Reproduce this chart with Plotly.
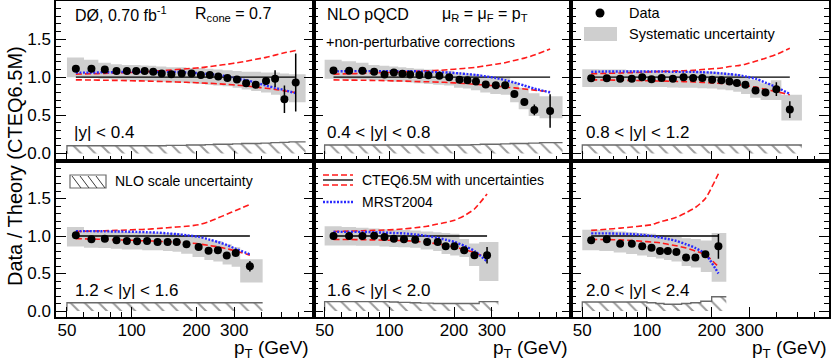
import plotly.graph_objects as go
from plotly.subplots import make_subplots

# |y| < 0.4
edges_1 = [50, 60, 70, 80, 90, 100, 110, 120, 130, 145, 160, 180, 200, 220, 240, 265, 295, 325, 360, 400, 445, 490, 540, 645]
pt_1 = [55, 65, 75, 85, 95, 105, 115, 126, 138, 153, 171, 190, 210, 231, 253, 279, 309, 341, 378, 422, 465, 514, 580]
ratio_1 = [1.11, 1.11, 1.10, 1.08, 1.08, 1.08, 1.08, 1.07, 1.05, 1.04, 1.05, 1.05, 1.03, 1.03, 1.01, 0.99, 0.97, 0.92, 0.90, 0.95, 0.98, 0.71, 0.93]
stat_1 = [0.005, 0.005, 0.005, 0.005, 0.005, 0.005, 0.005, 0.005, 0.005, 0.005, 0.005, 0.005, 0.005, 0.006, 0.007, 0.008, 0.01, 0.012, 0.02, 0.045, 0.11, 0.18, 0.38]
syshi_1 = [1.26, 1.23, 1.19, 1.17, 1.16, 1.16, 1.155, 1.15, 1.14, 1.13, 1.13, 1.12, 1.12, 1.11, 1.10, 1.09, 1.08, 1.07, 1.07, 1.06, 1.06, 1.05, 1.04]
syslo_1 = [1.00, 0.99, 0.98, 0.97, 0.96, 0.96, 0.95, 0.95, 0.94, 0.93, 0.93, 0.92, 0.91, 0.90, 0.89, 0.88, 0.86, 0.84, 0.82, 0.80, 0.77, 0.72, 0.67]
nlo_1 = [0.10, 0.10, 0.10, 0.10, 0.10, 0.10, 0.10, 0.10, 0.10, 0.105, 0.105, 0.11, 0.11, 0.115, 0.12, 0.12, 0.125, 0.13, 0.13, 0.135, 0.14, 0.145, 0.15]
cteq_up_1 = [1.04, 1.045, 1.05, 1.055, 1.06, 1.065, 1.07, 1.08, 1.085, 1.095, 1.105, 1.115, 1.125, 1.14, 1.155, 1.17, 1.19, 1.21, 1.235, 1.26, 1.29, 1.32, 1.35]
cteq_dn_1 = [0.965, 0.963, 0.96, 0.958, 0.955, 0.952, 0.95, 0.947, 0.944, 0.94, 0.935, 0.93, 0.925, 0.92, 0.913, 0.905, 0.895, 0.885, 0.87, 0.855, 0.84, 0.82, 0.80]
mrst_1 = [1.06, 1.06, 1.065, 1.065, 1.07, 1.07, 1.07, 1.07, 1.07, 1.07, 1.065, 1.06, 1.05, 1.04, 1.03, 1.01, 0.98, 0.96, 0.93, 0.89, 0.86, 0.83, 0.79]

# 0.4 < |y| < 0.8
edges_2 = [50, 60, 70, 80, 90, 100, 110, 120, 130, 145, 160, 180, 200, 220, 240, 265, 295, 330, 365, 400, 445, 500, 640]
pt_2 = [55, 65, 75, 85, 95, 105, 115, 125, 138, 152, 171, 190, 212, 231, 253, 281, 313, 346, 382, 425, 473, 560]
ratio_2 = [1.088, 1.083, 1.083, 1.07, 1.035, 1.06, 1.044, 1.035, 1.03, 1.026, 1.018, 1.00, 0.965, 0.96, 0.943, 0.904, 0.895, 0.895, 0.78, 0.675, 0.57, 0.557]
stat_2 = [0.005, 0.005, 0.005, 0.005, 0.005, 0.005, 0.005, 0.005, 0.005, 0.005, 0.005, 0.006, 0.006, 0.007, 0.008, 0.01, 0.012, 0.015, 0.02, 0.04, 0.07, 0.22]
syshi_2 = [1.23, 1.21, 1.19, 1.16, 1.15, 1.14, 1.13, 1.12, 1.11, 1.10, 1.09, 1.08, 1.06, 1.05, 1.04, 1.02, 1.00, 0.99, 0.93, 0.86, 0.79, 0.75]
syslo_2 = [0.98, 0.97, 0.97, 0.96, 0.95, 0.94, 0.94, 0.93, 0.92, 0.91, 0.90, 0.89, 0.86, 0.85, 0.83, 0.80, 0.78, 0.77, 0.67, 0.58, 0.49, 0.46]
nlo_2 = [0.11, 0.11, 0.11, 0.11, 0.11, 0.11, 0.11, 0.11, 0.11, 0.11, 0.11, 0.11, 0.11, 0.11, 0.115, 0.12, 0.12, 0.125, 0.13, 0.13, 0.135, 0.14]
cteq_up_2 = [1.04, 1.045, 1.05, 1.055, 1.06, 1.065, 1.07, 1.075, 1.08, 1.085, 1.09, 1.10, 1.11, 1.12, 1.13, 1.15, 1.17, 1.19, 1.22, 1.25, 1.29, 1.37]
cteq_dn_2 = [0.965, 0.962, 0.96, 0.957, 0.955, 0.952, 0.95, 0.946, 0.942, 0.94, 0.935, 0.93, 0.92, 0.915, 0.905, 0.895, 0.885, 0.87, 0.86, 0.845, 0.83, 0.81]
mrst_2 = [1.075, 1.08, 1.08, 1.08, 1.08, 1.08, 1.08, 1.08, 1.075, 1.07, 1.065, 1.06, 1.05, 1.04, 1.03, 1.01, 0.99, 0.96, 0.93, 0.89, 0.85, 0.80]

# 0.8 < |y| < 1.2
edges_3 = [50, 60, 70, 80, 90, 100, 110, 124, 140, 156, 172, 190, 212, 232, 252, 274, 302, 338, 377, 422, 526]
pt_3 = [55, 65, 75, 85, 95, 105, 117, 132, 148, 164, 181, 201, 222, 242, 262, 287, 320, 356, 400, 462]
ratio_3 = [0.987, 0.987, 0.978, 0.978, 1.0, 0.974, 0.991, 0.978, 1.0, 0.991, 0.991, 0.965, 0.96, 0.943, 0.925, 0.90, 0.825, 0.80, 0.842, 0.575]
stat_3 = [0.005, 0.005, 0.005, 0.005, 0.005, 0.005, 0.005, 0.005, 0.005, 0.005, 0.005, 0.005, 0.006, 0.007, 0.008, 0.01, 0.012, 0.02, 0.09, 0.11]
syshi_3 = [1.105, 1.10, 1.10, 1.095, 1.09, 1.09, 1.09, 1.085, 1.08, 1.08, 1.075, 1.07, 1.06, 1.05, 1.04, 1.0, 0.965, 0.92, 0.96, 0.77]
syslo_3 = [0.87, 0.87, 0.87, 0.87, 0.87, 0.87, 0.87, 0.865, 0.86, 0.86, 0.855, 0.85, 0.84, 0.83, 0.81, 0.78, 0.73, 0.70, 0.70, 0.43]
nlo_3 = [0.11, 0.11, 0.11, 0.11, 0.11, 0.11, 0.11, 0.11, 0.11, 0.11, 0.11, 0.11, 0.11, 0.11, 0.11, 0.11, 0.11, 0.11, 0.11, 0.11]
cteq_up_3 = [1.045, 1.05, 1.055, 1.06, 1.065, 1.07, 1.075, 1.08, 1.085, 1.09, 1.10, 1.11, 1.12, 1.14, 1.15, 1.17, 1.21, 1.25, 1.30, 1.38]
cteq_dn_3 = [0.965, 0.963, 0.96, 0.958, 0.955, 0.952, 0.95, 0.946, 0.942, 0.938, 0.932, 0.925, 0.918, 0.91, 0.90, 0.89, 0.87, 0.84, 0.81, 0.77]
mrst_3 = [1.07, 1.075, 1.075, 1.075, 1.075, 1.075, 1.075, 1.07, 1.07, 1.07, 1.065, 1.06, 1.05, 1.04, 1.03, 1.01, 0.98, 0.93, 0.87, 0.78]

# 1.2 < |y| < 1.6
edges_4 = [50, 60, 70, 80, 90, 100, 112, 125, 140, 155, 170, 192, 218, 240, 265, 292, 320, 407]
pt_4 = [55, 65, 75, 85, 95, 106, 118, 132, 147, 162, 180, 205, 228, 252, 277, 305, 355]
ratio_4 = [1.009, 0.956, 0.965, 0.942, 0.934, 0.929, 0.934, 0.92, 0.92, 0.92, 0.889, 0.854, 0.805, 0.81, 0.739, 0.774, 0.597]
stat_4 = [0.005, 0.005, 0.005, 0.005, 0.005, 0.005, 0.005, 0.005, 0.005, 0.005, 0.006, 0.007, 0.008, 0.01, 0.015, 0.03, 0.07]
syshi_4 = [1.12, 1.08, 1.075, 1.06, 1.055, 1.05, 1.05, 1.045, 1.04, 1.035, 1.01, 0.99, 0.95, 0.93, 0.89, 0.85, 0.69]
syslo_4 = [0.86, 0.845, 0.84, 0.83, 0.82, 0.82, 0.81, 0.81, 0.80, 0.79, 0.765, 0.72, 0.68, 0.66, 0.62, 0.59, 0.38]
nlo_4 = [0.11, 0.11, 0.11, 0.11, 0.11, 0.11, 0.11, 0.11, 0.11, 0.11, 0.11, 0.11, 0.11, 0.11, 0.11, 0.11, 0.11]
cteq_up_4 = [1.06, 1.065, 1.07, 1.075, 1.08, 1.085, 1.09, 1.10, 1.11, 1.12, 1.13, 1.15, 1.19, 1.24, 1.29, 1.34, 1.42]
cteq_dn_4 = [0.965, 0.96, 0.955, 0.95, 0.945, 0.94, 0.935, 0.93, 0.925, 0.92, 0.91, 0.895, 0.875, 0.855, 0.83, 0.80, 0.745]
mrst_4 = [1.065, 1.065, 1.062, 1.06, 1.058, 1.055, 1.05, 1.045, 1.035, 1.025, 1.01, 0.99, 0.955, 0.92, 0.88, 0.83, 0.755]

# 1.6 < |y| < 2.0
edges_5 = [50, 60, 70, 80, 90, 100, 110, 125, 140, 160, 175, 192, 212, 235, 262, 322]
pt_5 = [55, 65, 75, 85, 95, 105, 117, 132, 150, 168, 183, 201, 223, 249, 285]
ratio_5 = [1.0, 1.0, 1.0, 1.004, 0.987, 0.965, 0.956, 0.951, 0.92, 0.92, 0.863, 0.863, 0.81, 0.743, 0.743]
stat_5 = [0.005, 0.005, 0.005, 0.005, 0.005, 0.005, 0.005, 0.005, 0.005, 0.006, 0.008, 0.01, 0.015, 0.03, 0.11]
syshi_5 = [1.13, 1.12, 1.11, 1.10, 1.09, 1.085, 1.08, 1.075, 1.06, 1.05, 1.04, 1.03, 0.96, 0.90, 0.92]
syslo_5 = [0.875, 0.875, 0.87, 0.87, 0.86, 0.855, 0.85, 0.845, 0.82, 0.80, 0.76, 0.74, 0.72, 0.60, 0.40]
nlo_5 = [0.125, 0.125, 0.125, 0.125, 0.125, 0.12, 0.115, 0.11, 0.105, 0.10, 0.10, 0.10, 0.10, 0.10, 0.125]
cteq_up_5 = [1.06, 1.065, 1.07, 1.075, 1.08, 1.085, 1.095, 1.11, 1.13, 1.16, 1.18, 1.21, 1.27, 1.36, 1.56]
cteq_dn_5 = [0.955, 0.953, 0.95, 0.948, 0.945, 0.942, 0.938, 0.93, 0.915, 0.895, 0.875, 0.855, 0.82, 0.78, 0.71]
mrst_5 = [1.055, 1.055, 1.055, 1.05, 1.045, 1.04, 1.035, 1.02, 1.0, 0.975, 0.95, 0.92, 0.87, 0.80, 0.66]

# 2.0 < |y| < 2.4
edges_6 = [50, 60, 70, 80, 90, 100, 110, 120, 130, 145, 160, 178, 200, 234]
pt_6 = [55, 65, 75, 85, 95, 105, 115, 125, 137, 152, 168, 187, 215]
ratio_6 = [0.942, 0.956, 0.898, 0.898, 0.863, 0.845, 0.80, 0.80, 0.788, 0.712, 0.712, 0.757, 0.863]
stat_6 = [0.006, 0.006, 0.006, 0.006, 0.006, 0.007, 0.008, 0.01, 0.012, 0.015, 0.02, 0.03, 0.165]
syshi_6 = [1.085, 1.08, 1.06, 1.05, 1.04, 1.03, 1.01, 1.0, 0.99, 0.97, 0.96, 0.94, 1.04]
syslo_6 = [0.81, 0.80, 0.78, 0.76, 0.74, 0.72, 0.70, 0.68, 0.66, 0.60, 0.58, 0.52, 0.39]
nlo_6 = [0.12, 0.12, 0.12, 0.12, 0.12, 0.11, 0.10, 0.09, 0.09, 0.10, 0.11, 0.13, 0.19]
cteq_up_6 = [1.075, 1.09, 1.105, 1.12, 1.135, 1.15, 1.19, 1.215, 1.25, 1.31, 1.38, 1.50, 1.83]
cteq_dn_6 = [0.955, 0.952, 0.948, 0.94, 0.93, 0.92, 0.91, 0.89, 0.87, 0.84, 0.80, 0.75, 0.59]
mrst_6 = [1.035, 1.035, 1.03, 1.025, 1.015, 1.0, 0.98, 0.96, 0.935, 0.89, 0.84, 0.76, 0.50]

cteq_central = 1.0
rap_labels = ["|y| < 0.4", "0.4 < |y| < 0.8", "0.8 < |y| < 1.2",
              "1.2 < |y| < 1.6", "1.6 < |y| < 2.0", "2.0 < |y| < 2.4"]
x_ticks = [50, 100, 200, 300]
x_minor = [60, 70, 80, 90, 400, 500, 600, 700]

panels = [
    (1, 1, edges_1, pt_1, ratio_1, stat_1, syslo_1, syshi_1, nlo_1, cteq_up_1, cteq_dn_1, mrst_1),
    (1, 2, edges_2, pt_2, ratio_2, stat_2, syslo_2, syshi_2, nlo_2, cteq_up_2, cteq_dn_2, mrst_2),
    (1, 3, edges_3, pt_3, ratio_3, stat_3, syslo_3, syshi_3, nlo_3, cteq_up_3, cteq_dn_3, mrst_3),
    (2, 1, edges_4, pt_4, ratio_4, stat_4, syslo_4, syshi_4, nlo_4, cteq_up_4, cteq_dn_4, mrst_4),
    (2, 2, edges_5, pt_5, ratio_5, stat_5, syslo_5, syshi_5, nlo_5, cteq_up_5, cteq_dn_5, mrst_5),
    (2, 3, edges_6, pt_6, ratio_6, stat_6, syslo_6, syshi_6, nlo_6, cteq_up_6, cteq_dn_6, mrst_6),
]

W, H = 831, 360
ML, MR, MT, MB = 56, 2, 1, 43
FONT = "Liberation Sans, Arial, sans-serif"


def px(x):
    return (x - ML) / (W - ML - MR)


def py(y):
    return (H - MB - y) / (H - MT - MB)


fig = make_subplots(rows=2, cols=3, horizontal_spacing=0, vertical_spacing=0,
                    row_heights=[160, 156])

for row, col, edges, pt, ratio, stat, slo, shi, nlo, up, dn, mrst in panels:
    # systematic uncertainty boxes
    fig.add_trace(go.Scatter(x=edges, y=slo + [slo[-1]], mode="lines",
                             line=dict(width=0, shape="hv"), hoverinfo="skip"),
                  row=row, col=col)
    fig.add_trace(go.Scatter(x=edges, y=shi + [shi[-1]], mode="lines",
                             line=dict(width=0, shape="hv"), fill="tonexty",
                             fillcolor="#cfcfcf", hoverinfo="skip"),
                  row=row, col=col)
    # NLO scale uncertainty (hatched)
    fig.add_trace(go.Scatter(x=[edges[0]] + edges, y=[0] + nlo + [nlo[-1]], mode="lines",
                             line=dict(color="#6a6a6a", width=1.3, shape="hv"),
                             fill="tozeroy", fillcolor="rgba(0,0,0,0)",
                             fillpattern=dict(shape="\\", fgcolor="#3a3a3a",
                                              bgcolor="rgba(0,0,0,0)", size=10, solidity=0.2),
                             hoverinfo="skip"),
                  row=row, col=col)
    # CTEQ6.5M central and uncertainties
    fig.add_trace(go.Scatter(x=[pt[0], pt[-1]], y=[cteq_central, cteq_central], mode="lines",
                             line=dict(color="black", width=1.3)),
                  row=row, col=col)
    for band in (up, dn):
        fig.add_trace(go.Scatter(x=pt, y=band, mode="lines",
                                 line=dict(color="#ff1a1a", width=1.6, dash="6px,3px",
                                           shape="spline", smoothing=0.6)),
                      row=row, col=col)
    # MRST2004
    fig.add_trace(go.Scatter(x=pt, y=mrst, mode="lines",
                             line=dict(color="#2a2aff", width=2.4, dash="2px,1.5px",
                                       shape="spline", smoothing=0.6)),
                  row=row, col=col)
    # data
    fig.add_trace(go.Scatter(x=pt, y=ratio, mode="markers",
                             marker=dict(color="black", size=8),
                             error_y=dict(type="data", array=stat, color="black",
                                          thickness=1.5, width=0)),
                  row=row, col=col)

fig.update_traces(showlegend=False)

fig.update_xaxes(type="log", range=[1.648, 2.847], showline=True, mirror=True,
                 linecolor="black", linewidth=1.5, ticks="inside", ticklen=10,
                 tickwidth=1.2, tickcolor="black", tickmode="array", tickvals=x_ticks,
                 ticktext=[str(v) for v in x_ticks], showgrid=False, zeroline=False,
                 automargin=False, ticklabelstandoff=-3,
                 tickfont=dict(size=17, color="black", family=FONT),
                 minor=dict(tickmode="array", tickvals=x_minor, ticks="inside",
                            ticklen=5, tickwidth=1.2, tickcolor="black", showgrid=False))
fig.update_xaxes(showticklabels=False, row=1)
fig.update_yaxes(showline=True, mirror="ticks", linecolor="black", linewidth=1.5,
                 ticks="inside", ticklen=10, tickwidth=1.2, tickcolor="black",
                 tickmode="array", tickvals=[0, 0.5, 1.0, 1.5],
                 ticktext=["0.0", "0.5", "1.0", "1.5"], showgrid=False, zeroline=False,
                 automargin=False,
                 tickfont=dict(size=17, color="black", family=FONT),
                 minor=dict(dtick=0.1, tick0=0, ticks="inside", ticklen=5,
                            tickwidth=1.2, tickcolor="black", showgrid=False))
fig.update_yaxes(range=[-0.1, 2.0], row=1)
fig.update_yaxes(range=[-0.08, 2.0], row=2)
fig.update_yaxes(showticklabels=False, col=2)
fig.update_yaxes(showticklabels=False, col=3)

ann = []


def text(x, y, s, size, anchor="left"):
    ann.append(dict(x=px(x), y=py(y), xref="paper", yref="paper", text=s, showarrow=False,
                    xanchor=anchor, yanchor="middle",
                    font=dict(size=size, color="black", family=FONT)))


text(73, 14, "DØ, 0.70 fb<sup>-1</sup>", 16)
text(193, 14, "R<sub>cone</sub> = 0.7", 16)
text(325, 14, "NLO pQCD", 16)
text(440, 14, "μ<sub>R</sub> = μ<sub>F</sub> = p<sub>T</sub>", 16)
text(324, 42, "+non-perturbative corrections", 14.5)
text(627, 13, "Data", 14.5)
text(627, 34, "Systematic uncertainty", 14.5)
text(113, 181, "NLO scale uncertainty", 14)
text(360, 180, "CTEQ6.5M with uncertainties", 14)
text(360, 202, "MRST2004", 14)

label_pos = [(72, 132), (325, 132), (584, 132), (73, 290), (325, 290), (584, 290)]
for (lx, ly), lab in zip(label_pos, rap_labels):
    text(lx, ly, lab, 17)

for xr in (311, 570, 829):
    text(xr, 349, "p<sub>T</sub> (GeV)", 19, anchor="right")

ann.append(dict(x=px(15), y=py(166), xref="paper", yref="paper", showarrow=False,
                xanchor="center", yanchor="middle",
                text="Data / Theory (CTEQ6.5M)", textangle=-90,
                font=dict(size=20, color="black", family=FONT)))

shapes = []


def seg(x0, y0, x1, y1, **line):
    shapes.append(dict(type="line", xref="paper", yref="paper",
                       x0=px(x0), y0=py(y0), x1=px(x1), y1=py(y1), line=line))


# legend keys
shapes.append(dict(type="circle", xref="paper", yref="paper", x0=px(595.5), x1=px(604.5),
                   y0=py(8.5), y1=py(17.5), fillcolor="black", line=dict(width=0)))
shapes.append(dict(type="rect", xref="paper", yref="paper", x0=px(584), x1=px(617),
                   y0=py(27), y1=py(41), fillcolor="#cfcfcf", line=dict(width=0)))
shapes.append(dict(type="rect", xref="paper", yref="paper", x0=px(70), x1=px(106),
                   y0=py(175), y1=py(188), line=dict(color="#6a6a6a", width=1.2)))
for hx in range(72, 104, 8):
    seg(hx, 176, min(hx + 9, 105), 176 + (min(hx + 9, 105) - hx) * 12 / 9,
        color="#3a3a3a", width=1)
seg(323, 175, 353, 175, color="#ff1a1a", width=1.6, dash="6px,3px")
seg(323, 180, 353, 180, color="black", width=1.3)
seg(323, 185, 353, 185, color="#ff1a1a", width=1.6, dash="6px,3px")
seg(323, 202, 353, 202, color="#2a2aff", width=2.4, dash="2px,1.5px")

fig.update_layout(width=W, height=H, margin=dict(l=ML, r=MR, t=MT, b=MB),
                  plot_bgcolor="white", paper_bgcolor="white",
                  font=dict(family=FONT, color="black"),
                  annotations=ann, shapes=shapes, showlegend=False)

# the page body has a default 8px margin; drop it so the figure sits at the corner
fig.write_html("out.html", config={"displayModeBar": False},
               post_script="document.body.style.margin='0';"
                           "document.body.style.overflow='hidden';")
